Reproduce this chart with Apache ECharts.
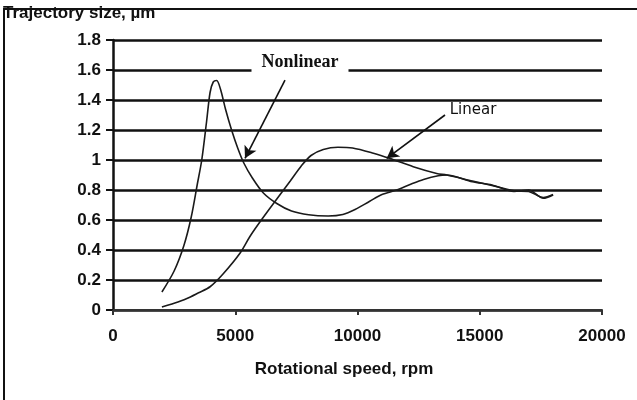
<!DOCTYPE html>
<html>
<head>
<meta charset="utf-8">
<script src="https://cdn.jsdelivr.net/npm/echarts@6/dist/echarts.min.js"></script>
<style>html,body{margin:0;padding:0;background:#fff;}#c{width:637px;height:400px;}</style>
</head>
<body>
<div id="c"></div>
<script>
// Data
const rpmNonlinear  = [2000, 2500, 2900, 3200, 3450, 3630, 3830, 3970, 4100, 4240, 4400, 4600, 4850, 5100, 5350, 5700, 6150, 6700, 7300, 8000, 8800, 9400, 9900, 10500, 11000, 11600, 12200, 12700, 13300, 13650, 14700, 15500, 16400, 17000, 17600, 18000];
const sizeNonlinear = [0.12, 0.26, 0.43, 0.62, 0.84, 1.0, 1.26, 1.45, 1.52, 1.53, 1.47, 1.34, 1.2, 1.08, 0.98, 0.88, 0.78, 0.71, 0.66, 0.635, 0.627, 0.637, 0.67, 0.725, 0.77, 0.8, 0.84, 0.87, 0.895, 0.9, 0.855, 0.833, 0.79, 0.8, 0.745, 0.767];
const rpmLinear  = [2000, 2500, 3000, 3500, 3970, 4500, 5200, 5600, 6000, 6700, 7250, 7700, 8100, 8600, 9200, 9800, 10650, 11330, 12280, 13240, 13650, 14700, 15500, 16400, 17000, 17600, 18000];
const sizeLinear = [0.02, 0.045, 0.075, 0.115, 0.155, 0.24, 0.38, 0.49, 0.585, 0.74, 0.86, 0.96, 1.03, 1.07, 1.085, 1.08, 1.045, 1.01, 0.955, 0.91, 0.9, 0.86, 0.83, 0.795, 0.79, 0.75, 0.77];
const xTicks = { min: 0, max: 20000, interval: 5000 };
const yTicks = { min: 0, max: 1.8, interval: 0.2 };
const seriesNames = ['Nonlinear', 'Linear'];
// annotation anchors (data coordinates)
const nonlinearLabelAt = [7648, 1.653];
const nonlinearArrow = [[7035, 1.533], [5399, 1.011]];
const linearLabelAt = [14724, 1.333];
const linearArrow = [[13579, 1.3], [11194, 1.011]];

const zip = (xs, ys) => xs.map((x, i) => [x, ys[i]]);
const ink = '#111';
const sans = "'Liberation Sans', Arial, sans-serif";

const chart = echarts.init(document.getElementById('c'), null, { renderer: 'canvas' });
chart.setOption({
  backgroundColor: '#fff',
  animation: false,
  title: {
    text: 'Trajectory size, µm', left: 3, top: 5, padding: 0,
    textStyle: { fontFamily: sans, fontSize: 17, fontWeight: 'bold', color: ink }
  },
  graphic: [{
    type: 'rect', z: -1, silent: true,
    shape: { x: 4, y: 9, width: 800, height: 600 },
    style: { fill: 'none', stroke: ink, lineWidth: 2 }
  }],
  grid: { left: 113, right: 35, top: 40, bottom: 90, containLabel: false },
  xAxis: {
    type: 'value', min: xTicks.min, max: xTicks.max, interval: xTicks.interval,
    name: 'Rotational speed, rpm', nameLocation: 'middle', nameGap: 51,
    nameTextStyle: { fontFamily: sans, fontSize: 17, fontWeight: 'bold', color: ink, padding: [0, 27, 0, 0] },
    axisLine: { show: true, lineStyle: { color: '#333', width: 2 } },
    axisTick: { show: true, length: 5, lineStyle: { color: '#333', width: 2 } },
    axisLabel: { fontFamily: sans, fontSize: 17, fontWeight: 'bold', color: ink, margin: 18, formatter: v => String(v) },
    splitLine: { show: false }
  },
  yAxis: {
    type: 'value', min: yTicks.min, max: yTicks.max, interval: yTicks.interval,
    axisLine: { show: true, lineStyle: { color: ink, width: 2.5 } },
    axisTick: { show: true, length: 7, lineStyle: { color: ink, width: 2 } },
    axisLabel: { fontFamily: sans, fontSize: 17, fontWeight: 'bold', color: ink, margin: 12 },
    splitLine: { show: true, lineStyle: { color: ink, width: 2.5 } }
  },
  series: [
    {
      name: seriesNames[0], type: 'line', data: zip(rpmNonlinear, sizeNonlinear),
      smooth: 0.3, showSymbol: false, symbol: 'none',
      lineStyle: { color: '#1a1a1a', width: 1.6 },
      markLine: {
        silent: true, symbol: ['none', 'arrow'], symbolSize: [10, 12],
        lineStyle: { color: ink, width: 1.6, type: 'solid' }, label: { show: false },
        data: [[{ coord: nonlinearArrow[0] }, { coord: nonlinearArrow[1] }]]
      },
      markPoint: {
        silent: true, symbol: 'circle', symbolSize: 1, itemStyle: { color: 'rgba(0,0,0,0)' },
        label: {
          show: true, position: 'inside', formatter: seriesNames[0],
          fontFamily: "'Liberation Serif', 'Times New Roman', serif", fontSize: 18, fontWeight: 'bold',
          color: ink, backgroundColor: '#fff', padding: [6, 10]
        },
        data: [{ coord: nonlinearLabelAt }]
      }
    },
    {
      name: seriesNames[1], type: 'line', data: zip(rpmLinear, sizeLinear),
      smooth: 0.3, showSymbol: false, symbol: 'none',
      lineStyle: { color: '#1a1a1a', width: 1.6 },
      markLine: {
        silent: true, symbol: ['none', 'arrow'], symbolSize: [10, 12],
        lineStyle: { color: ink, width: 1.6, type: 'solid' }, label: { show: false },
        data: [[{ coord: linearArrow[0] }, { coord: linearArrow[1] }]]
      },
      markPoint: {
        silent: true, symbol: 'circle', symbolSize: 1, itemStyle: { color: 'rgba(0,0,0,0)' },
        label: {
          show: true, position: 'inside', formatter: seriesNames[1],
          fontFamily: "'DejaVu Sans', Tahoma, sans-serif", fontSize: 15, color: ink
        },
        data: [{ coord: linearLabelAt }]
      }
    }
  ]
});
</script>
</body>
</html>
